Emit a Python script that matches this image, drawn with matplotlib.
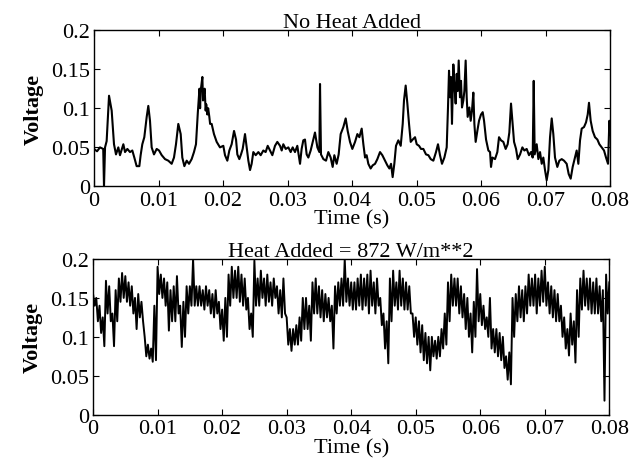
import numpy as np
import matplotlib.pyplot as plt

# top panel: no heat added (time in ms, voltage)
top_t_ms = [0.0, 0.47, 0.93, 1.43, 1.55, 1.71, 1.96, 2.33, 2.74, 3.10, 3.41, 3.77, 4.03,
            4.55, 4.81, 5.17, 5.58, 5.94, 6.25, 6.61, 7.03, 7.23, 7.49, 7.80, 8.17, 8.42,
            8.68, 8.94, 9.30, 9.72, 10.08, 10.5, 11.01, 11.52, 12.04, 12.4, 12.71, 13.07,
            13.44, 13.69, 14.01, 14.37, 14.73, 15.14, 15.5, 15.81, 16.02, 16.1, 16.23,
            16.35, 16.45, 16.54, 16.65, 16.8, 16.9, 17.05, 17.15, 17.31, 17.4, 17.57,
            17.7, 17.88, 18.0, 18.24, 18.6, 19.02, 19.53, 20.05,
            20.31, 20.67, 20.98, 21.34, 21.71, 22.02, 22.22, 22.53, 22.79, 23.05, 23.41,
            23.67, 23.93, 24.19, 24.44, 24.7, 25.07, 25.48, 25.84, 26.25, 26.61, 26.93,
            27.29, 27.65, 28.06, 28.42, 28.84, 29.1, 29.35, 29.72, 30.13, 30.49, 30.8,
            31.16, 31.52, 31.94, 32.19, 32.45, 32.71, 32.97, 33.23, 33.59, 34.0, 34.26,
            34.63, 34.94, 35.04, 35.19, 35.56, 35.97, 36.33, 36.69, 37.0, 37.26, 37.62,
            37.93, 38.24, 38.66, 39.02, 39.33, 39.69, 40.05,
            40.47, 40.83, 41.14, 41.5, 41.76, 42.02, 42.27, 42.53, 42.89, 43.2, 43.57,
            43.93, 44.34, 44.7, 45.12, 45.48, 45.79, 46.05, 46.3, 46.56, 46.82, 47.18,
            47.55, 47.86, 48.06, 48.32, 48.58, 48.84, 49.1, 49.41, 49.77, 50.03, 50.39,
            50.7, 51.06, 51.47, 51.84, 52.2, 52.61, 53.02, 53.33, 53.64, 53.95, 54.32,
            54.68, 54.88, 55.04, 55.19, 55.35, 55.5, 55.71, 55.87, 56.07, 56.23, 56.38,
            56.54, 56.74, 56.9, 57.05, 57.26, 57.42, 57.62, 57.78, 57.93, 58.19, 58.4,
            58.6, 58.81, 58.97, 59.17, 59.43, 59.69, 60.0,
            60.26, 60.47, 60.78, 61.14, 61.4, 61.55, 61.76, 62.17, 62.53, 62.79, 63.1,
            63.46, 63.82, 64.13, 64.39, 64.65, 64.86, 65.12, 65.43, 65.69, 66.05, 66.41,
            66.72, 67.08, 67.44, 67.75, 68.01, 68.17, 68.32, 68.63, 68.89, 69.15, 69.41,
            69.66, 69.92, 70.18, 70.44, 70.7, 70.96, 71.21, 71.47, 71.83, 72.14, 72.51,
            72.87, 73.28, 73.59, 73.9, 74.21, 74.57, 74.83, 75.09, 75.35, 75.61, 75.97,
            76.28, 76.54, 76.74, 77.0, 77.31, 77.67, 78.04, 78.35, 78.71, 79.07, 79.38,
            79.69, 79.9, 80.0]
top_v = [0.048, 0.045, 0.05, 0.048, 0.0, 0.05, 0.058, 0.116, 0.097, 0.054, 0.041, 0.05, 0.04,
         0.054, 0.044, 0.048, 0.044, 0.046, 0.037, 0.026, 0.026, 0.04, 0.054, 0.063, 0.089, 0.103,
         0.084, 0.05, 0.041, 0.048, 0.046, 0.04, 0.035, 0.033, 0.029, 0.037, 0.054, 0.08,
         0.067, 0.037, 0.026, 0.033, 0.029, 0.035, 0.044, 0.054, 0.084, 0.095, 0.11,
         0.125, 0.1, 0.122, 0.13, 0.14, 0.11, 0.118, 0.125, 0.097, 0.105, 0.092,
         0.1, 0.089, 0.08, 0.08, 0.067, 0.057, 0.05, 0.052,
         0.04, 0.033, 0.046, 0.054, 0.071, 0.06, 0.041, 0.035, 0.041, 0.048, 0.067,
         0.05, 0.033, 0.021, 0.029, 0.044, 0.04, 0.044, 0.04, 0.046, 0.044, 0.052,
         0.046, 0.04, 0.052, 0.057, 0.052, 0.046, 0.054, 0.048, 0.05, 0.044, 0.05,
         0.044, 0.052, 0.029, 0.048, 0.059, 0.06, 0.041, 0.037, 0.046, 0.06, 0.069,
         0.05, 0.044, 0.131, 0.041, 0.035, 0.033, 0.044, 0.037, 0.025, 0.04, 0.029,
         0.041, 0.067, 0.076, 0.087, 0.071, 0.057, 0.048,
         0.057, 0.067, 0.063, 0.074, 0.054, 0.037, 0.04, 0.029, 0.023, 0.027, 0.029,
         0.035, 0.044, 0.04, 0.033, 0.027, 0.023, 0.029, 0.012, 0.029, 0.052, 0.059,
         0.052, 0.08, 0.11, 0.129, 0.106, 0.08, 0.057, 0.06, 0.063, 0.054, 0.052,
         0.048, 0.048, 0.041, 0.04, 0.035, 0.033, 0.044, 0.054, 0.04, 0.029, 0.037,
         0.05, 0.101, 0.148, 0.114, 0.14, 0.08, 0.156, 0.131, 0.106, 0.144, 0.122,
         0.161, 0.114, 0.135, 0.101, 0.11, 0.122, 0.161, 0.114, 0.089, 0.101, 0.084,
         0.097, 0.12, 0.08, 0.057, 0.071, 0.084, 0.092,
         0.095, 0.084, 0.06, 0.046, 0.044, 0.025, 0.037, 0.035, 0.044, 0.063, 0.059,
         0.057, 0.048, 0.054, 0.069, 0.106, 0.084, 0.057, 0.048, 0.035, 0.041, 0.05,
         0.046, 0.048, 0.04, 0.044, 0.037, 0.135, 0.041, 0.054, 0.035, 0.044, 0.029,
         0.037, 0.021, 0.008, 0.021, 0.063, 0.087, 0.067, 0.037, 0.025, 0.033, 0.035,
         0.033, 0.029, 0.016, 0.01, 0.025, 0.037, 0.046, 0.029, 0.059, 0.074, 0.076,
         0.082, 0.092, 0.107, 0.084, 0.071, 0.063, 0.06, 0.054, 0.05, 0.046, 0.037,
         0.029, 0.084, 0.067]

# bottom panel: heat added, upper / lower edge of the noisy trace every 0.5 ms
bot_hi = [0.155, 0.15, 0.14, 0.125, 0.172, 0.165, 0.13, 0.16, 0.175, 0.182,
          0.178, 0.17, 0.165, 0.15, 0.155, 0.145, 0.1, 0.09, 0.085, 0.14,
          0.19, 0.18, 0.175, 0.17, 0.16, 0.165, 0.178, 0.14, 0.145, 0.165,
          0.165, 0.2, 0.165, 0.165, 0.16, 0.165, 0.16, 0.155, 0.16, 0.145,
          0.135, 0.15, 0.18, 0.19, 0.185, 0.19, 0.18, 0.175, 0.15, 0.13,
          0.198, 0.175, 0.185, 0.175, 0.18, 0.17, 0.175, 0.165, 0.16, 0.175,
          0.125, 0.11, 0.11, 0.115, 0.125, 0.15, 0.15, 0.14, 0.17, 0.175,
          0.165, 0.16, 0.155, 0.15, 0.14, 0.165, 0.17, 0.175, 0.2, 0.175,
          0.17, 0.17, 0.175, 0.18, 0.175, 0.18, 0.185, 0.17, 0.175, 0.15,
          0.13, 0.12, 0.175, 0.185, 0.17, 0.185, 0.175, 0.17, 0.165, 0.13,
          0.125, 0.12, 0.115, 0.105, 0.1, 0.1, 0.095, 0.1, 0.11, 0.13,
          0.17, 0.18, 0.175, 0.175, 0.165, 0.155, 0.15, 0.13, 0.145, 0.187,
          0.155, 0.14, 0.125, 0.15, 0.11, 0.11, 0.105, 0.1, 0.075, 0.08,
          0.15, 0.155, 0.165, 0.16, 0.165, 0.18, 0.175, 0.18, 0.175, 0.185,
          0.19, 0.17, 0.165, 0.16, 0.155, 0.14, 0.125, 0.11, 0.13, 0.12,
          0.16, 0.175, 0.185, 0.175, 0.175, 0.17, 0.175, 0.165, 0.16, 0.18,
          0.17]
bot_lo = [0.14, 0.12, 0.105, 0.088, 0.13, 0.12, 0.088, 0.12, 0.145, 0.15,
          0.145, 0.14, 0.13, 0.11, 0.125, 0.12, 0.075, 0.072, 0.068, 0.07,
          0.155, 0.15, 0.14, 0.108, 0.12, 0.12, 0.13, 0.087, 0.1, 0.13,
          0.14, 0.14, 0.14, 0.14, 0.135, 0.14, 0.13, 0.125, 0.13, 0.11,
          0.095, 0.1, 0.14, 0.15, 0.15, 0.145, 0.14, 0.135, 0.11, 0.1,
          0.14, 0.14, 0.15, 0.14, 0.145, 0.14, 0.15, 0.13, 0.125, 0.13,
          0.09, 0.082, 0.09, 0.09, 0.095, 0.11, 0.11, 0.095, 0.13, 0.13,
          0.125, 0.12, 0.125, 0.12, 0.085, 0.13, 0.14, 0.14, 0.145, 0.14,
          0.135, 0.135, 0.14, 0.135, 0.14, 0.13, 0.14, 0.13, 0.14, 0.115,
          0.085, 0.066, 0.12, 0.14, 0.135, 0.14, 0.135, 0.135, 0.13, 0.1,
          0.09, 0.08, 0.07, 0.066, 0.057, 0.075, 0.072, 0.075, 0.085, 0.09,
          0.12, 0.14, 0.14, 0.13, 0.125, 0.11, 0.1, 0.08, 0.1, 0.12,
          0.115, 0.11, 0.1, 0.085, 0.08, 0.075, 0.07, 0.06, 0.045, 0.039,
          0.1, 0.12, 0.125, 0.12, 0.13, 0.14, 0.14, 0.13, 0.14, 0.145,
          0.14, 0.13, 0.125, 0.12, 0.12, 0.1, 0.085, 0.076, 0.09, 0.067,
          0.1, 0.135, 0.14, 0.135, 0.13, 0.13, 0.13, 0.12, 0.018, 0.13,
          0.135]

top_t = np.array(top_t_ms) / 1000.0
n = len(bot_hi)
bot_t = np.empty(2 * n)
bot_t[0::2] = np.arange(n) * 0.0005
bot_t[1::2] = np.arange(n) * 0.0005 + 0.00025
bot_v = np.empty(2 * n)
bot_v[0::2] = bot_hi
bot_v[1::2] = bot_lo
keep = bot_t <= 0.08
bot_t, bot_v = bot_t[keep], bot_v[keep]

plt.rcParams['font.family'] = ['Liberation Serif', 'DejaVu Serif']

fig = plt.figure(figsize=(6.33, 4.6), dpi=100)
ax1 = fig.add_axes([0.1485, 0.5924, 0.8152, 0.3402])
ax2 = fig.add_axes([0.1470, 0.0963, 0.8156, 0.3385])

ax1.plot(top_t, top_v, color='black', linewidth=1.5)
ax2.plot(bot_t, bot_v, color='black', linewidth=1.4)

xt = [0, 0.01, 0.02, 0.03, 0.04, 0.05, 0.06, 0.07, 0.08]
xl = ['0', '0.01', '0.02', '0.03', '0.04', '0.05', '0.06', '0.07', '0.08']
yt = [0, 0.05, 0.1, 0.15, 0.2]
yl = ['0', '0.05', '0.1', '0.15', '0.2']

for ax, title in [(ax1, 'No Heat Added'), (ax2, 'Heat Added = 872 W/m**2')]:
    ax.set_xlim(0, 0.08)
    ax.set_ylim(0, 0.2)
    ax.set_xticks(xt)
    ax.set_xticklabels(xl)
    ax.set_yticks(yt)
    ax.set_yticklabels(yl)
    ax.tick_params(direction='in', top=True, right=True, length=4, width=0.8,
                   labelsize=16, pad=3)
    ax.set_title(title, fontsize=16, pad=2)
    ax.set_xlabel('Time (s)', fontsize=16, labelpad=0)
    ax.set_ylabel('Voltage', fontsize=16, fontweight='bold', labelpad=5)
    for s in ax.spines.values():
        s.set_linewidth(1.0)

fig.savefig('out.png', dpi=100)
